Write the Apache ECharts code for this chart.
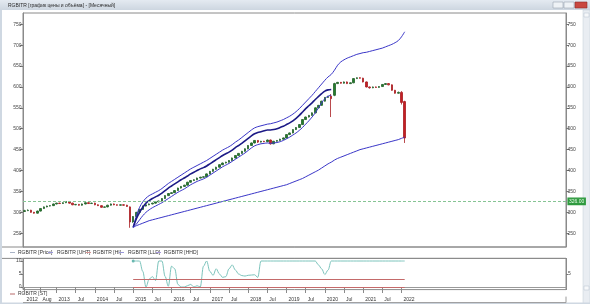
<!DOCTYPE html>
<html><head><meta charset="utf-8">
<script src="https://cdn.jsdelivr.net/npm/echarts@6/dist/echarts.min.js"></script>
<style>html,body{margin:0;padding:0;background:#fff;overflow:hidden}#c{width:590px;height:304px}</style>
</head><body><div id="c"></div>
<script>
// ---------------- data ----------------
const titleText = 'RGBITR [график цены и объёма] - [Месячный]';
const firstMonth = [2012, 3];
const axisMonthCount = 170;

const opens = [
 302,304,305,300,298,303,309,313,315,316,
 320,322,321,323,326,322,318,319,317,320,323,321,
 322,318,316,312,313,317,320,318,317,318,317,313,
 277,290,300,307,315,318,320,322,325,327,333,340,
 345,347,352,358,362,365,372,376,378,382,384,385,
 392,398,403,408,414,418,420,424,430,436,441,446,
 452,460,466,472,468,470,469,473,464,470,472,475,
 478,486,490,498,503,510,522,528,532,538,550,556,
 566,575,578,580,608,611,609,612,608,610,620,622,
 621,612,600,598,600,599,601,606,608,605,592,585,
 587,565];
const closes = [
 304,305,300,298,303,309,313,315,316,320,
 322,321,323,326,322,318,319,317,320,323,321,322,
 318,316,312,313,317,320,318,317,318,317,314,277,
 290,300,307,315,318,320,322,325,327,333,340,345,
 347,352,358,362,365,372,376,378,382,384,385,392,
 398,403,408,414,418,420,424,430,436,441,446,452,
 460,466,472,468,470,469,473,464,470,472,475,478,
 486,490,498,503,510,522,528,532,538,550,556,566,
 575,577,572,608,611,609,612,608,610,620,622,621,
 612,600,598,600,599,601,606,608,605,592,585,587,
 563,478];
const highs = [
 306,307,306,301,304,310,314,316,317,321,
 323,323,324,327,327,323,320,320,321,324,324,323,
 323,319,317,314,318,321,321,319,319,319,318,314,
 291,301,308,316,319,321,323,326,328,334,341,346,
 348,353,359,363,366,373,377,379,383,385,386,393,
 399,404,409,415,419,421,425,431,437,442,447,453,
 461,467,473,473,471,471,474,474,471,473,476,479,
 487,491,499,504,511,523,529,533,539,551,557,567,
 576,579,583,610,612,612,613,613,611,621,623,623,
 622,613,601,601,601,602,607,609,609,606,593,589,
 590,567];
const lows = [
 301,303,299,297,297,302,308,312,314,315,
 319,320,320,322,321,317,317,316,316,319,320,320,
 317,315,311,311,312,316,317,316,316,316,313,263,
 275,289,299,306,314,317,319,321,324,326,332,339,
 344,346,351,357,361,364,371,375,377,381,383,384,
 391,397,402,407,413,417,419,423,429,435,440,445,
 451,459,465,466,467,468,468,462,463,469,471,474,
 477,485,489,497,502,509,521,527,531,537,549,555,
 565,574,528,578,607,608,608,607,607,609,619,620,
 611,599,596,597,598,598,600,605,604,591,584,584,
 558,466];

const bandStartMonth = '2015-01';
const upperBand = [
 264,292,312,325,334,340,344,348,352,357,363,369,
 374,379,384,389,394,399,404,408,412,416,420,424,
 429,434,439,444,449,453,457,462,468,473,479,485,
 491,497,502,505,507,509,511,512,514,516,519,522,
 526,530,535,541,548,556,564,572,580,589,598,607,
 616,624,630,640,652,660,665,669,672,675,678,680,
 682,683,685,687,689,691,693,696,699,702,706,711,
 720,732];
const channelTop = [
 264,285,300,312,322,328,333,337,341,346,352,358,
 363,368,373,378,382,387,392,396,400,404,407,411,
 416,421,426,431,436,440,444,449,455,460,465,471,
 477,483,488,491,493,495,497,497,498,500,503,506,
 510,514,519,525,532,540,548,555,562,570,577,584,
 590,593,594];
const channelBottom = [
 264,272,282,292,300,306,311,315,319,323,328,333,
 338,343,348,352,356,361,366,370,374,377,380,384,
 389,394,399,404,409,413,417,422,427,432,437,442,
 448,454,459,462,464,465,466,465,466,467,469,472,
 476,480,485,490,496,503,511,519,528,538,550,562,
 572,578,580];
const lowerBand = [
 264,268,271,274,277,280,282,284,286,288,290,292,
 294,296,298,300,302,304,306,308,310,312,314,316,
 318,320,322,324,326,328,330,332,334,336,338,340,
 342,344,346,348,350,352,354,356,358,360,362,364,
 366,369,372,375,378,381,385,389,393,397,401,406,
 411,416,420,425,429,432,435,438,441,444,447,450,
 452,454,456,458,460,462,464,466,468,470,472,474,
 477,480];
const stValues = [
 10,10,10,6,0,3,4,2.5,10,10,4,0.3,
 8,7,1,0,0,0.5,1,0,0.5,0,8,10,
 6,4.5,7,5,3.7,4,7,8.5,6.5,5,4.4,4.2,
 4.5,4.6,4.7,3.7,10,10,10,10,10,10,10,10,
 10,10,10,10,10,10,10,10,10,10,8.5,7,
 4.8,6.5,10,10,10,10,10,10,10,10,10,10,
 10,10,10,10,10,10,10,10,10,10,10,10,
 10,10];
const stLevels = [3, 0];
const supportLevel = 326;
const priceTicks = [250,300,350,400,450,500,550,600,650,700,750];
const stTicks = [0,5,10];
const xLabelMonths = ['2012-03','2012-08','2013-01','2013-07','2014-01','2014-07','2015-01','2015-07','2016-01','2016-07','2017-01','2017-07','2018-01','2018-07','2019-01','2019-07','2020-01','2020-07','2021-01','2021-07','2022-01'];
const xLabelTexts  = ['2012','Aug','2013','Jul','2014','Jul','2015','Jul','2016','Jul','2017','Jul','2018','Jul','2019','Jul','2020','Jul','2021','Jul','2022'];
const legendNames = ['RGBITR [Price]','RGBITR [UHT]','RGBITR [HI]','RGBITR [LLD]','RGBITR [HHD]'];
const stLegendName = 'RGBITR [ST]';

// ---------------- build ----------------
const months = [];
for (let k = 0; k < axisMonthCount; k++) {
  const m0 = firstMonth[1] - 1 + k;
  const y = firstMonth[0] + Math.floor(m0 / 12);
  const m = (m0 % 12) + 1;
  months.push(y + '-' + (m < 10 ? '0' : '') + m);
}
const priceMonths = months.slice(0, closes.length);
const bandStart = months.indexOf(bandStartMonth);
const pairs = arr => arr.map((v, i) => [months[bandStart + i], v]);
const candleData = opens.map((o, i) => [o, closes[i], lows[i], highs[i]]);
const stData = stValues.map((v, i) => i === 0
  ? { value: [months[bandStart], v], symbol: 'circle', symbolSize: 3 }
  : [months[bandStart + i], v]);
const lastPriceMonth = priceMonths[priceMonths.length - 1];
const labelSet = {};
xLabelMonths.forEach((m, i) => { labelSet[m] = xLabelTexts[i]; });

const FONT = 'Liberation Sans, Arial, sans-serif';
const boxLabel = (bg, border, color) => ({
  show: true, position: 'end', distance: 2, fontSize: 5, fontFamily: FONT,
  color: color, backgroundColor: bg, borderColor: border, borderWidth: 0.6,
  padding: [1, 1, 0.5, 1]
});
const hiddenLine = { opacity: 0 };

const chart = echarts.init(document.getElementById('c'), null, { renderer: 'canvas' });

const mainY = {
  type: 'value', gridIndex: 0, min: 217, max: 777, scale: true,
  splitLine: { show: false },
  axisLine: { show: true, lineStyle: { color: '#8a8a8a', width: 1 } },
  axisTick: { show: true, length: 3, customValues: priceTicks, lineStyle: { color: '#777' } },
  axisLabel: { show: true, customValues: priceTicks, showMinLabel: true, showMaxLabel: true, hideOverlap: false,
    fontSize: 5, fontFamily: FONT, color: '#444', margin: 1.5 }
};

const option = {
  animation: false,
  backgroundColor: '#ffffff',
  grid: [
    { left: 23, right: 24, top: 13, height: 234, show: true, borderColor: '#8a8a8a', borderWidth: 1, backgroundColor: '#fff', containLabel: false, outerBoundsMode: 'none' },
    { left: 23, right: 24, top: 258.4, height: 31.2, show: true, borderColor: '#8a8a8a', borderWidth: 1, backgroundColor: '#fff', containLabel: false, outerBoundsMode: 'none' }
  ],
  xAxis: [
    { type: 'category', gridIndex: 0, data: months, boundaryGap: true,
      axisLine: { show: false }, axisTick: { show: false }, axisLabel: { show: false }, splitLine: { show: false } },
    { type: 'category', gridIndex: 1, data: months, boundaryGap: true, position: 'bottom', offset: 7,
      axisLine: { show: true, lineStyle: { color: '#9a9a9a', width: 1 } },
      axisTick: { show: true, alignWithLabel: true, length: 6, interval: (i, v) => labelSet[v] !== undefined, lineStyle: { color: '#8a8a8a' } },
      axisLabel: { show: true, interval: (i, v) => labelSet[v] !== undefined, formatter: v => labelSet[v] || '',
        align: 'left', verticalAlign: 'top', margin: 1, padding: [0, 0, 0, 2], fontSize: 5, fontFamily: FONT, color: '#333' },
      splitLine: { show: false } }
  ],
  yAxis: [
    Object.assign({}, mainY, { position: 'left' }),
    Object.assign({}, mainY, { position: 'right' }),
    { type: 'value', gridIndex: 1, min: -1, max: 11, position: 'left', splitLine: { show: false },
      axisLine: { show: true, lineStyle: { color: '#8a8a8a' } },
      axisTick: { show: true, length: 2, customValues: stTicks, lineStyle: { color: '#777' } },
      axisLabel: { customValues: stTicks, fontSize: 5, fontFamily: FONT, color: '#444', margin: 1.5 } },
    { type: 'value', gridIndex: 1, min: -1, max: 11, position: 'right', splitLine: { show: false },
      axisLine: { show: true, lineStyle: { color: '#8a8a8a' } },
      axisTick: { show: true, length: 2, customValues: [5], lineStyle: { color: '#777' } },
      axisLabel: { customValues: [5], fontSize: 5, fontFamily: FONT, color: '#444', margin: 2 } }
  ],
  series: [
    { name: 'price', type: 'candlestick', xAxisIndex: 0, yAxisIndex: 0, data: candleData, barWidth: 2,
      itemStyle: { color: '#23802b', color0: '#c41f24', borderColor: '#23602b', borderColor0: '#a81c20', borderWidth: 0.8 },
      markLine: { silent: true, symbol: ['none', 'none'],
        lineStyle: { color: '#86c494', type: [3, 2], width: 1 },
        data: [{ yAxis: supportLevel }],
        label: Object.assign(boxLabel('#2f9a3f', '#2f9a3f', '#e8ffe8'), { formatter: p => p.value.toFixed(2) }) } },
    { name: 'upper', type: 'line', xAxisIndex: 0, yAxisIndex: 0, data: pairs(upperBand), showSymbol: false, smooth: 0.3,
      lineStyle: { color: '#3a36c8', width: 1 },
      markLine: { silent: true, symbol: ['none', 'none'], lineStyle: hiddenLine,
        label: Object.assign(boxLabel('#e6e6fb', '#5e5ad6', '#3a36b0'), { formatter: p => p.value.toFixed(2) }),
        data: [{ yAxis: upperBand[upperBand.length - 1] }] } },
    { name: 'chTop', type: 'line', xAxisIndex: 0, yAxisIndex: 0, data: pairs(channelTop), showSymbol: false, smooth: 0.3,
      lineStyle: { color: '#1c1a86', width: 1.6 } },
    { name: 'chBottom', type: 'line', xAxisIndex: 0, yAxisIndex: 0, data: pairs(channelBottom), showSymbol: false, smooth: 0.3,
      lineStyle: { color: '#3a36c8', width: 1 } },
    { name: 'lower', type: 'line', xAxisIndex: 0, yAxisIndex: 0, data: pairs(lowerBand), showSymbol: false, smooth: 0.3,
      lineStyle: { color: '#3a36c8', width: 1 },
      markLine: { silent: true, symbol: ['none', 'none'], lineStyle: hiddenLine,
        label: Object.assign(boxLabel('#e6e6fb', '#5e5ad6', '#3a36b0'), { formatter: p => p.value.toFixed(2) }),
        data: [{ yAxis: lowerBand[lowerBand.length - 1] }] } },
    { name: 'st', type: 'line', xAxisIndex: 1, yAxisIndex: 2, data: stData, smooth: 0.35, smoothMonotone: 'x', symbol: 'none', showSymbol: true,
      itemStyle: { color: '#6ab8b0' }, lineStyle: { color: '#7cc4bc', width: 1 },
      markLine: { silent: true, symbol: ['none', 'none'], lineStyle: { color: '#c46a6a', width: 1, type: 'solid' }, label: { show: false },
        data: stLevels.map(l => [{ coord: [bandStartMonth, l] }, { coord: [lastPriceMonth, l] }]) } },
    { name: 'stBoxes', type: 'line', xAxisIndex: 1, yAxisIndex: 2, data: [],
      markLine: { silent: true, symbol: ['none', 'none'], lineStyle: hiddenLine,
        data: [
          { yAxis: stValues[stValues.length - 1], label: Object.assign(boxLabel('#e4f4f2', '#6ab8b0', '#2a7a72'), { formatter: p => String(p.value) }) },
          { yAxis: stLevels[0], label: Object.assign(boxLabel('#f7e6e6', '#c46a6a', '#8a2a2a'), { formatter: p => String(p.value) }) },
          { yAxis: stLevels[1], label: Object.assign(boxLabel('#f7e6e6', '#c46a6a', '#8a2a2a'), { formatter: p => String(p.value) }) }
        ] } }
  ],
  graphic: [
    { type: 'rect', shape: { x: 0, y: 0, width: 590, height: 10 }, silent: true,
      style: { fill: new echarts.graphic.LinearGradient(0, 0, 0, 1, [{ offset: 0, color: '#e4eaf1' }, { offset: 1, color: '#cdd6e0' }]) } },
    { type: 'text', silent: true, style: { text: titleText, x: 8, y: 5.5, font: '5px ' + FONT, fill: '#2a2a2a', verticalAlign: 'middle' } },
    { type: 'rect', shape: { x: 553, y: 2, width: 10, height: 6 }, silent: true, style: { fill: '#eef2f6', stroke: '#9aa6b4', lineWidth: 0.6 } },
    { type: 'rect', shape: { x: 564, y: 2, width: 10, height: 6 }, silent: true, style: { fill: '#eef2f6', stroke: '#9aa6b4', lineWidth: 0.6 } },
    { type: 'rect', shape: { x: 575, y: 2, width: 12, height: 6 }, silent: true, style: { fill: '#c9473f', stroke: '#8e2e28', lineWidth: 0.6 } },
    { type: 'rect', shape: { x: 0, y: 10, width: 2, height: 294 }, silent: true, style: { fill: '#cfd8e2' } },
    { type: 'rect', shape: { x: 583, y: 10, width: 7, height: 294 }, silent: true, style: { fill: '#e9edf2', stroke: '#c3ccd6', lineWidth: 0.5 } },
    { type: 'rect', shape: { x: 584, y: 13, width: 5, height: 4 }, silent: true, style: { fill: '#f6f8fa', stroke: '#b7c1cc', lineWidth: 0.5 } },
    { type: 'rect', shape: { x: 584, y: 286, width: 5, height: 4 }, silent: true, style: { fill: '#f6f8fa', stroke: '#b7c1cc', lineWidth: 0.5 } },
    { type: 'rect', shape: { x: 0, y: 302.5, width: 590, height: 1.5 }, silent: true, style: { fill: '#cfd8e2' } },
    { type: 'line', shape: { x1: 2, y1: 247, x2: 566, y2: 247 }, silent: true, style: { stroke: '#8a8a8a', lineWidth: 1 } },
    { type: 'line', shape: { x1: 2, y1: 258.4, x2: 566, y2: 258.4 }, silent: true, style: { stroke: '#8a8a8a', lineWidth: 1 } },
    { type: 'line', shape: { x1: 23, y1: 302.6, x2: 566, y2: 302.6 }, silent: true, style: { stroke: '#9a9a9a', lineWidth: 1 } },
    { type: 'line', shape: { x1: 566, y1: 296.6, x2: 566, y2: 302.6 }, silent: true, style: { stroke: '#9a9a9a', lineWidth: 1 } },
    { type: 'line', shape: { x1: 10, y1: 252.5, x2: 15, y2: 252.5 }, silent: true, style: { stroke: '#a9b3c6', lineWidth: 1 } },
    { type: 'text', silent: true, style: { text: legendNames[0], x: 18, y: 252.5, font: '5px ' + FONT, fill: '#333', verticalAlign: 'middle' } },
    { type: 'line', shape: { x1: 48, y1: 252.5, x2: 53, y2: 252.5 }, silent: true, style: { stroke: '#9a98dc', lineWidth: 1 } },
    { type: 'text', silent: true, style: { text: legendNames[1], x: 57, y: 252.5, font: '5px ' + FONT, fill: '#333', verticalAlign: 'middle' } },
    { type: 'line', shape: { x1: 86, y1: 252.5, x2: 91, y2: 252.5 }, silent: true, style: { stroke: '#d99494', lineWidth: 1 } },
    { type: 'text', silent: true, style: { text: legendNames[2], x: 93, y: 252.5, font: '5px ' + FONT, fill: '#333', verticalAlign: 'middle' } },
    { type: 'line', shape: { x1: 119, y1: 252.5, x2: 124, y2: 252.5 }, silent: true, style: { stroke: '#9a98dc', lineWidth: 1 } },
    { type: 'text', silent: true, style: { text: legendNames[3], x: 128, y: 252.5, font: '5px ' + FONT, fill: '#333', verticalAlign: 'middle' } },
    { type: 'line', shape: { x1: 156, y1: 252.5, x2: 161, y2: 252.5 }, silent: true, style: { stroke: '#a898dc', lineWidth: 1 } },
    { type: 'text', silent: true, style: { text: legendNames[4], x: 164, y: 252.5, font: '5px ' + FONT, fill: '#333', verticalAlign: 'middle' } },
    { type: 'line', shape: { x1: 10, y1: 294, x2: 15, y2: 294 }, silent: true, style: { stroke: '#b86a6a', lineWidth: 1 } },
    { type: 'text', silent: true, style: { text: stLegendName, x: 18, y: 294, font: '5px ' + FONT, fill: '#333', verticalAlign: 'middle' } }
  ]
};
chart.setOption(option);
</script></body></html>
